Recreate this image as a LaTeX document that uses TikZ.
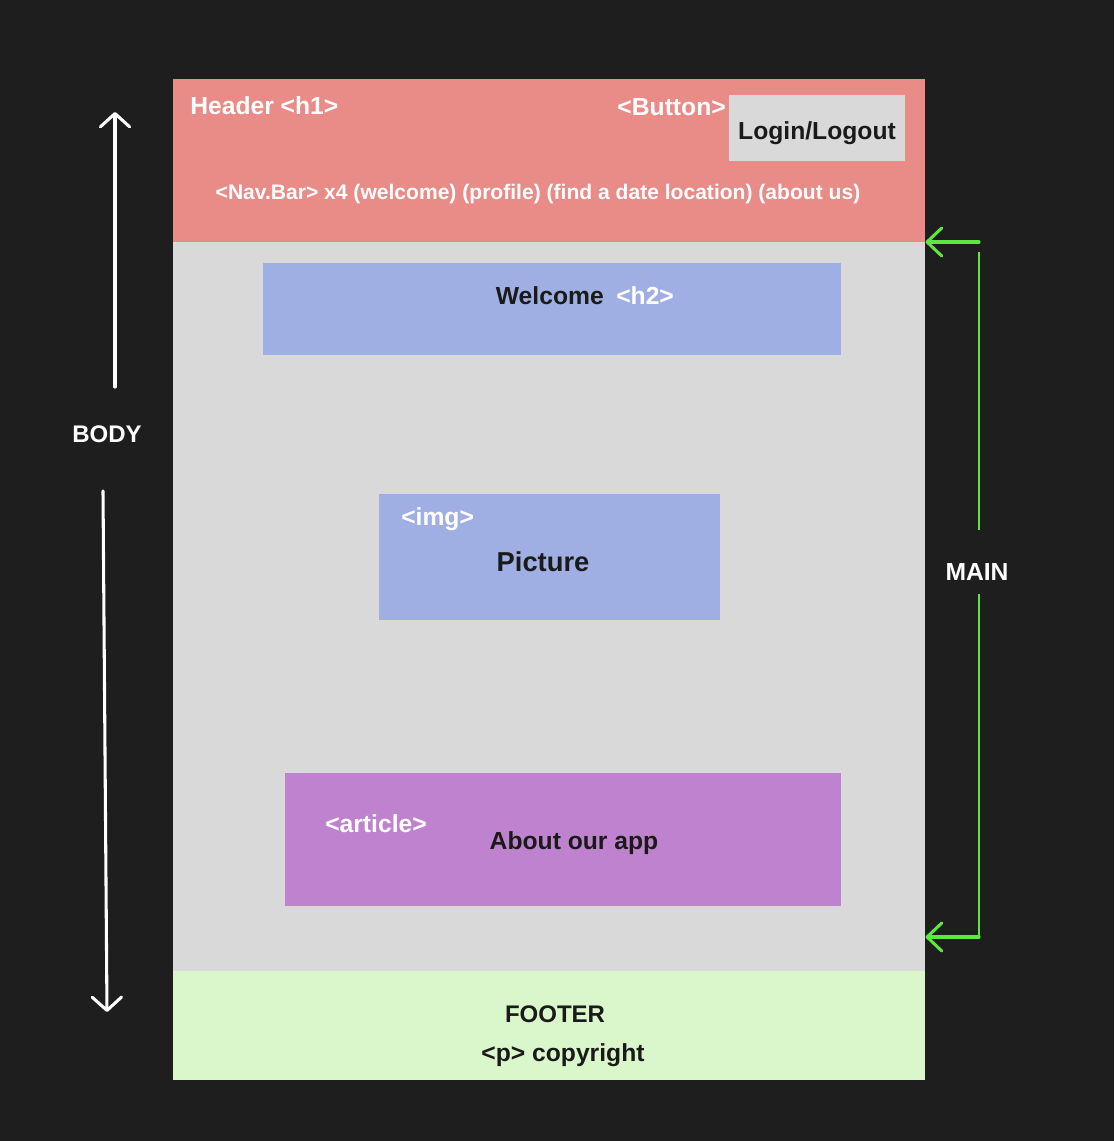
\documentclass[tikz,border=0pt]{standalone}
\usepackage{fontspec}
\setmainfont{Liberation Sans}
\usetikzlibrary{arrows.meta}
\definecolor{bg}{HTML}{1E1E1E}
\definecolor{hdr}{HTML}{E98B86}
\definecolor{mainc}{HTML}{D9D9D9}
\definecolor{ftr}{HTML}{D9F7CB}
\definecolor{blu}{HTML}{A0AFE3}
\definecolor{pur}{HTML}{BF82CF}
\definecolor{grn}{HTML}{5EE641}
\definecolor{dark}{HTML}{1A1A1A}
\newcommand{\fs}[1]{\fontsize{#1}{#1}\selectfont\bfseries}
\tikzset{
  region/.style={draw=none, inner sep=0pt},
  wlabel/.style={text=white, inner sep=0pt},
  dlabel/.style={text=dark, inner sep=0pt},
  bodyarrow/.style={draw=white, line width=2.3pt, line cap=round, -{Straight Barb[length=10pt,width=22pt,line width=2.3pt,round]}},
  mainarrow/.style={draw=grn, line width=2.3pt, line cap=round, -{Straight Barb[length=11pt,width=21pt,line width=2.3pt,round]}},
  mainline/.style={draw=grn, line width=1.1pt}
}
\begin{document}
\begin{tikzpicture}[x=0.75pt,y=-0.75pt]
\fill[bg] (0,0) rectangle (1114,1141);
\useasboundingbox (0,0) rectangle (1114,1141);
% regions
\node[region, fill=hdr, minimum width=752*0.75pt, minimum height=163*0.75pt, anchor=north west] (header) at (173,79) {};
\node[region, fill=mainc, minimum width=752*0.75pt, minimum height=729*0.75pt, anchor=north west] (main) at (173,242) {};
\node[region, fill=ftr, minimum width=752*0.75pt, minimum height=109*0.75pt, anchor=north west] (footer) at (173,971) {};
\node[region, fill=mainc, minimum width=176*0.75pt, minimum height=66*0.75pt, anchor=north west] (login) at (729,95) {};
\node[region, fill=blu, minimum width=578*0.75pt, minimum height=92*0.75pt, anchor=north west] (welcome) at (263,263) {};
\node[region, fill=blu, minimum width=341*0.75pt, minimum height=126*0.75pt, anchor=north west] (picture) at (379,494) {};
\node[region, fill=pur, minimum width=556*0.75pt, minimum height=133*0.75pt, anchor=north west] (article) at (285,773) {};
% texts
\node[wlabel, anchor=west] (th1) at (190,106) {\fs{18.5}Header <h1>};
\node[wlabel, anchor=east] (tbtn) at (726,107) {\fs{18.5}<Button>};
\node[dlabel] (tlogin) at (817,133) {\fs{18.5}Login/Logout};
\node[wlabel] (tnav) at (538,194) {\fs{15.8}<Nav.Bar> x4 (welcome) (profile) (find a date location) (about us)};
\node[dlabel, anchor=east] (twel) at (604,296) {\fs{18.5}Welcome};
\node[wlabel, anchor=west] (th2) at (616,296) {\fs{18.5}<h2>};
\node[wlabel, anchor=west] (timg) at (401,519) {\fs{18.5}<img>};
\node[dlabel] (tpic) at (543,562) {\fs{20.5}Picture};
\node[wlabel, anchor=west] (tart) at (325,824) {\fs{18.5}<article>};
\node[dlabel] (tabout) at (574,843) {\fs{18.5}About our app};
\node[dlabel] (tfooter) at (555,1014) {\fs{18}FOOTER};
\node[dlabel] (tcopy) at (563,1055) {\fs{18.5}<p> copyright};
\node[wlabel] (tbody) at (107,434) {\fs{18}BODY};
\node[wlabel] (tmain) at (977,572) {\fs{18.5}MAIN};
% body arrows
\coordinate (bu0) at (115,387);
\coordinate (bu1) at (115,112);
\coordinate (bd0) at (103,491);
\coordinate (bd1) at (107,1012);
\draw[bodyarrow] (bu0) -- (bu1);
\draw[bodyarrow] (bd0) -- (bd1);
% main arrows
\coordinate (mt) at (979,242);
\coordinate (mb) at (979,937);
\coordinate (mt2) at (979,252);
\coordinate (mt3) at (979,530);
\coordinate (mb2) at (979,594);
\draw[mainarrow] (mt) -- (main.north east);
\draw[mainarrow] (mb) -- (main.east |- mb);
\draw[mainline] (mt2) -- (mt3);
\draw[mainline] (mb2) -- (mb);
\end{tikzpicture}
\end{document}
